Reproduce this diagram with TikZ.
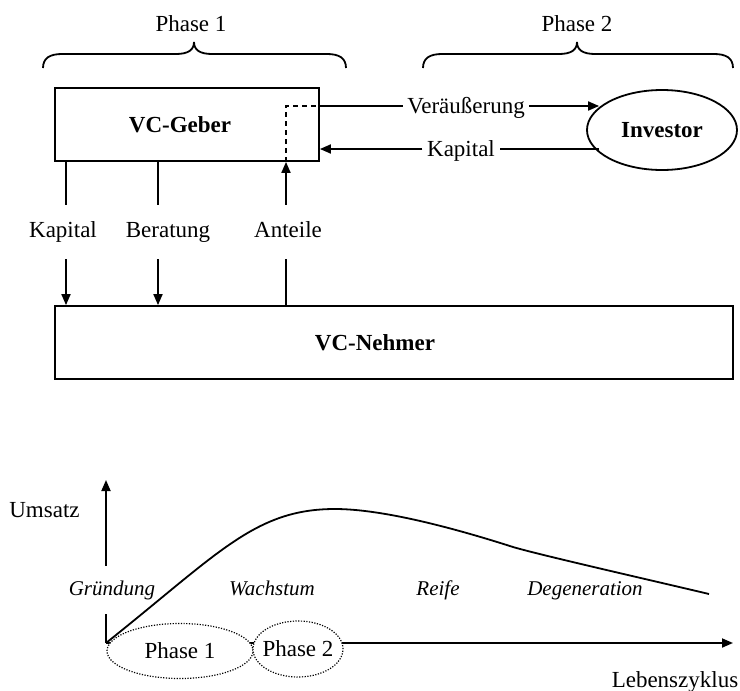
\documentclass[tikz,border=0pt]{standalone}
\usepackage{fontspec}
\setmainfont{Liberation Serif}
\usetikzlibrary{arrows.meta,shapes.geometric}
\begin{document}
\begin{tikzpicture}[x=1pt,y=-1pt,
  every node/.style={font=\fontsize{23pt}{27pt}\selectfont},
  ln/.style={line width=1.8pt},
  arr/.style={ln,-{Triangle[length=11pt,width=9pt]}},
  box/.style={draw,ln,rectangle,inner sep=0pt,font=\fontsize{23pt}{27pt}\selectfont\bfseries},
  lab/.style={anchor=base,text height=15pt,text depth=5pt,inner ysep=0pt},
  gap/.style={lab,inner ysep=17pt,inner xsep=0pt},
  hlab/.style={lab,inner xsep=4.5pt},
  it/.style={font=\fontsize{21pt}{25pt}\selectfont\itshape},
  ph/.style={draw,ellipse,line width=1.2pt,dash pattern=on 1.2pt off 1.5pt,fill=white,inner sep=0pt},
  bracepath/.style={line width=1.8pt}
]
\useasboundingbox (0,0) rectangle (740,691);

% ---------- upper part ----------
\node[lab] (ph1) at (191,31) {Phase 1};
\node[lab] (ph2) at (577,31) {Phase 2};
\draw[bracepath] (43,68) .. controls (43,58) and (50,54) .. (62,54) -- (176,54)
  .. controls (188,54) and (194,50) .. (194,42)
  .. controls (194,50) and (200,54) .. (212,54) -- (327,54)
  .. controls (339,54) and (346,58) .. (346,68);
\draw[bracepath] (423,68) .. controls (423,58) and (430,54) .. (442,54) -- (559,54)
  .. controls (571,54) and (577,50) .. (577,42)
  .. controls (577,50) and (583,54) .. (595,54) -- (714,54)
  .. controls (726,54) and (733,58) .. (733,68);

\node[box,minimum width=264pt,minimum height=73pt] (geber) at (187,124.5) {VC-Geber\hspace*{14pt}};
\node[box,minimum width=678pt,minimum height=73pt] (nehmer) at (394,342.5) {VC-Nehmer\hspace*{38pt}};
\node[draw,ln,ellipse,minimum width=150pt,minimum height=80pt,inner sep=0pt,
      font=\fontsize{23pt}{27pt}\selectfont\bfseries] (inv) at (662,130) {Investor};

\coordinate (c1) at (66,0);
\coordinate (c2) at (158,0);
\coordinate (c3) at (286,0);

\node[gap] (kapA) at (63,237) {Kapital};
\node[gap] (ber) at (168,237) {Beratung};
\node[gap] (ant) at (288,237) {Anteile};

\draw[ln] (geber.south -| c1) -- (c1 |- kapA.north);
\draw[arr] (c1 |- kapA.south) -- (nehmer.north -| c1);
\draw[ln] (geber.south -| c2) -- (c2 |- ber.north);
\draw[arr] (c2 |- ber.south) -- (nehmer.north -| c2);
\draw[ln] (nehmer.north -| c3) -- (c3 |- ant.south);
\draw[arr] (c3 |- ant.north) -- (geber.south -| c3);

\node[hlab] (ver) at (466,113.5) {Veräußerung};
\node[hlab] (kapB) at (461,156.5) {Kapital};
\coordinate (verline) at (0,106);
\coordinate (kapline) at (0,149);

\draw[ln,dash pattern=on 5pt off 4pt] (geber.south -| c3) -- (c3 |- verline) -- (geber.east |- verline);
\draw[ln] (geber.east |- verline) -- (ver.west |- verline);
\draw[arr] (ver.east |- verline) -- (inv.160 |- verline);
\draw[ln] (inv.200 |- kapline) -- (kapB.east |- kapline);
\draw[arr] (kapB.west |- kapline) -- (geber.east |- kapline);

% ---------- lower part ----------
\coordinate (o) at (106,643);
\coordinate (ytip) at (106,480);
\coordinate (xtip) at (733,643);

\node[lab] (ums) at (44.5,517) {Umsatz};
\node[lab,it,inner ysep=14pt] (gr) at (112,595) {Gründung};
\node[lab,it] (wa) at (272,595) {Wachstum};
\node[lab,it] (re) at (438,595) {Reife};
\node[lab,it] (de) at (585,595) {Degeneration};
\node[lab] (lz) at (675,687) {Lebenszyklus};

\draw[ln] (o) -- (o |- gr.south);
\draw[arr] (o |- gr.north) -- (ytip);
\draw[arr] (o) -- (xtip);

\node[ph,minimum width=146pt,minimum height=55pt] (e1) at (180,651) {\makebox[0pt]{Phase 1}};
\node[ph,minimum width=90pt,minimum height=56pt] (e2) at (298,649) {\makebox[0pt]{Phase 2}};

\draw[ln] (o) .. controls (219,553) and (255,509) .. (335,509)
  .. controls (385,509) and (460,530) .. (513,547)
  .. controls (540,555) and (650,580) .. (709,594);
\end{tikzpicture}
\end{document}
